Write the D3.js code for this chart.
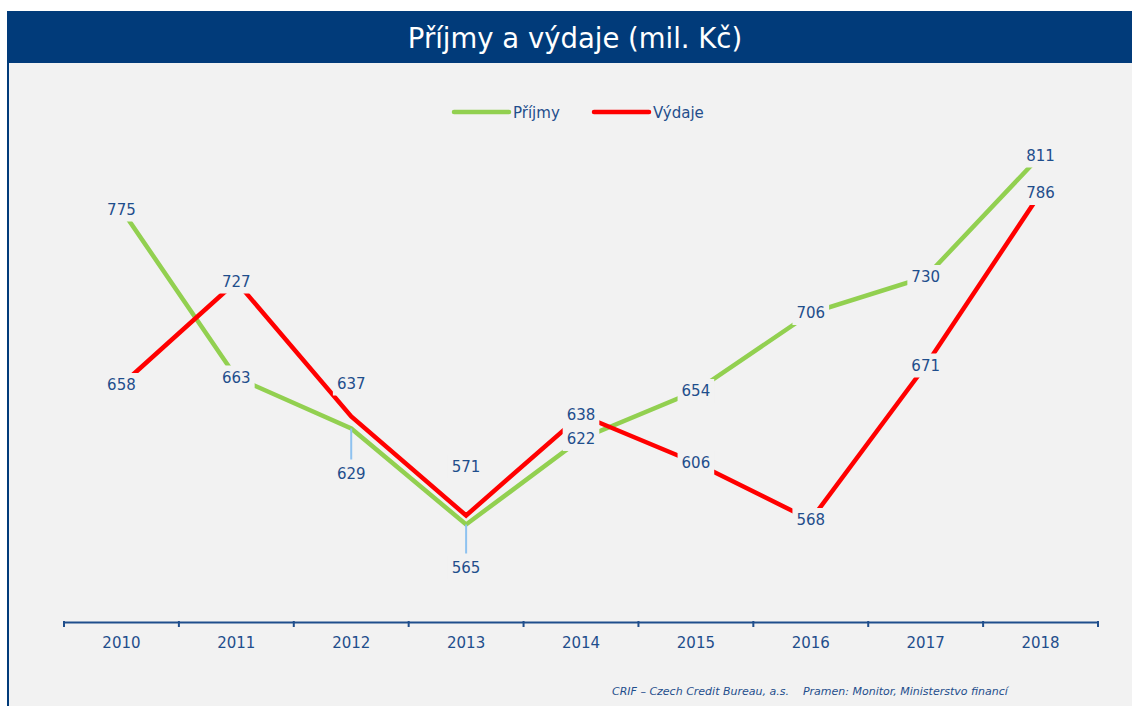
<!DOCTYPE html>
<html>
<head>
<meta charset="utf-8">
<script src="https://cdn.jsdelivr.net/npm/d3@7"></script>
<style>
  html, body { margin: 0; padding: 0; background: #fff; }
  svg { display: block; }
</style>
</head>
<body>
<svg id="chart" width="1132" height="706"></svg>
<script>
'use strict';

const years = ['2010', '2011', '2012', '2013', '2014', '2015', '2016', '2017', '2018'];
const prijmy = [775, 663, 629, 565, 622, 654, 706, 730, 811];
const vydaje = [658, 727, 637, 571, 638, 606, 568, 671, 786];
const seriesNames = ['Příjmy', 'Výdaje'];

const title = 'Příjmy a výdaje (mil. Kč)';
const footer = 'CRIF – Czech Credit Bureau, a.s.    Pramen: Monitor, Ministerstvo financí';

const W = 1132, H = 706;
const textColor = '#1f4e8c';
const colors = ['#92d050', '#ff0000'];
const font = '"DejaVu Sans", Verdana, sans-serif';

const svg = d3.select('#chart');

// frame: header bar, grey body, dark left edge
svg.append('rect').attr('x', 7).attr('y', 11).attr('width', W - 7).attr('height', H - 11)
    .attr('fill', '#f2f2f2');
svg.append('rect').attr('x', 7).attr('y', 11).attr('width', W - 7).attr('height', 52)
    .attr('fill', '#013b7a');
svg.append('rect').attr('x', 7).attr('y', 63).attr('width', 2).attr('height', H - 63)
    .attr('fill', '#013b7a');

svg.append('text')
    .attr('x', 575).attr('y', 38)
    .attr('text-anchor', 'middle').attr('dominant-baseline', 'central')
    .attr('fill', '#fff')
    .style('font-family', font)
    .style('font-size', '27.5px')
    .text(title);

// scales
const x = d3.scaleBand().domain(years).range([64, 1098]);
const y = d3.scaleLinear().domain([500, 850]).range([622, 97]);

// axis
const axis = svg.append('g')
    .attr('transform', 'translate(0,622)')
    .call(d3.axisBottom(x).tickSize(0).tickPadding(15));
axis.select('.domain').attr('stroke', textColor).attr('stroke-width', 2);
axis.selectAll('text')
    .attr('fill', textColor)
    .style('font-family', font)
    .style('font-size', '15px');

// tick marks sit on band boundaries
svg.append('g').selectAll('line')
    .data(years.concat(['end']))
    .join('line')
    .attr('x1', (d, i) => i < years.length ? x(d) : x.range()[1])
    .attr('x2', (d, i) => i < years.length ? x(d) : x.range()[1])
    .attr('y1', 621).attr('y2', 627)
    .attr('stroke', textColor).attr('stroke-width', 2);

const cx = d => x(d) + x.bandwidth() / 2;

const series = [prijmy, vydaje].map((vals, s) => ({
    name: seriesNames[s],
    color: colors[s],
    points: vals.map((v, i) => ({ year: years[i], value: v, s: s, i: i }))
}));

const line = d3.line().x(d => cx(d.year)).y(d => y(d.value));

svg.append('g').selectAll('path')
    .data(series)
    .join('path')
    .attr('d', d => line(d.points))
    .attr('fill', 'none')
    .attr('stroke', d => d.color)
    .attr('stroke-width', 4.5);

// label offsets (series index, point index) -> dy, leader
const labelOffsets = {
    '0-2': { dy: 45, leader: true },
    '0-3': { dy: 43, leader: true },
    '1-2': { dy: -33 },
    '1-3': { dy: -49 }
};

const allPoints = series.flatMap(s => s.points);
allPoints.forEach(p => {
    const o = labelOffsets[p.s + '-' + p.i] || { dy: 0 };
    p.lx = cx(p.year);
    p.ly = y(p.value) + o.dy;
    p.leader = !!o.leader;
});

svg.append('g').selectAll('line')
    .data(allPoints.filter(p => p.leader))
    .join('line')
    .attr('x1', d => d.lx).attr('x2', d => d.lx)
    .attr('y1', d => y(d.value)).attr('y2', d => d.ly - 14)
    .attr('stroke', '#8ec2f0').attr('stroke-width', 2);

const labels = svg.append('g');
const boxes = labels.append('g');
const texts = labels.append('g').selectAll('text')
    .data(allPoints)
    .join('text')
    .attr('x', d => d.lx).attr('y', d => d.ly)
    .attr('text-anchor', 'middle').attr('dominant-baseline', 'central')
    .attr('fill', textColor)
    .style('font-family', font)
    .style('font-size', '15px')
    .text(d => d.value);

texts.each(function(d) {
    const b = this.getBBox();
    boxes.append('rect')
        .attr('x', b.x - 4).attr('y', d.ly - 12)
        .attr('width', b.width + 8).attr('height', 24)
        .attr('fill', '#f2f2f2');
});

// legend
const legend = svg.append('g').attr('transform', 'translate(454,112)');
const item = legend.selectAll('g')
    .data(series)
    .join('g')
    .attr('transform', (d, i) => `translate(${i * 140},0)`);
item.append('line')
    .attr('x1', 0).attr('x2', 55)
    .attr('stroke', d => d.color)
    .attr('stroke-width', 4.5)
    .attr('stroke-linecap', 'round');
item.append('text')
    .attr('x', 59).attr('y', 1).attr('dominant-baseline', 'central')
    .attr('fill', textColor)
    .style('font-family', font)
    .style('font-size', '15px')
    .text(d => d.name);

svg.append('text')
    .attr('x', 612).attr('y', 695)
    .attr('fill', textColor)
    .style('font-family', font)
    .style('font-style', 'italic')
    .style('font-size', '11px')
    .style('white-space', 'pre')
    .attr('xml:space', 'preserve')
    .text(footer);
</script>
</body>
</html>
